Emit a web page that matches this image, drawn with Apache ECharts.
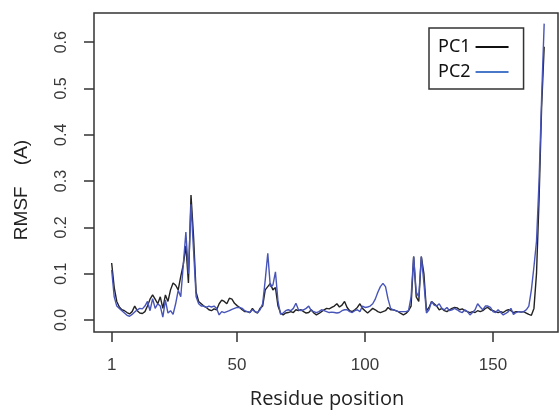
<!DOCTYPE html>
<html>
<head>
<meta charset="utf-8">
<script src="https://cdn.jsdelivr.net/npm/echarts@6/dist/echarts.min.js"></script>
<style>
  html, body { margin: 0; padding: 0; background: #fff; }
  #chart { width: 559px; height: 415px; }
</style>
</head>
<body>
<div id="chart"></div>
<script>
// RMSF per residue
const pc1 = [
  0.123, 0.07, 0.04, 0.028, 0.022, 0.02, 0.016, 0.013, 0.018, 0.03,
  0.02, 0.015, 0.014, 0.018, 0.03, 0.045, 0.054, 0.045, 0.035, 0.05,
  0.025, 0.054, 0.04, 0.065, 0.08, 0.075, 0.065, 0.094, 0.12, 0.16,
  0.08, 0.27, 0.18, 0.06, 0.04, 0.035, 0.03, 0.027, 0.022, 0.02,
  0.024, 0.022, 0.035, 0.043, 0.04, 0.035, 0.047, 0.045, 0.036, 0.031,
  0.027, 0.022, 0.018, 0.018, 0.016, 0.025, 0.018, 0.015, 0.025, 0.03,
  0.065, 0.072, 0.079, 0.065, 0.07, 0.03, 0.015, 0.011, 0.015, 0.016,
  0.018, 0.016, 0.022, 0.02, 0.022, 0.018, 0.015, 0.016, 0.022, 0.015,
  0.011, 0.014, 0.018, 0.022, 0.025, 0.024, 0.027, 0.03, 0.035, 0.028,
  0.032, 0.04, 0.027, 0.02, 0.018, 0.022, 0.027, 0.035, 0.025, 0.02,
  0.015, 0.02, 0.025, 0.022, 0.018, 0.016, 0.018, 0.02, 0.027, 0.022,
  0.022, 0.02, 0.018, 0.014, 0.011, 0.014, 0.02, 0.03, 0.137, 0.05,
  0.04, 0.137, 0.1, 0.02, 0.027, 0.04, 0.035, 0.03, 0.022, 0.025,
  0.02, 0.018, 0.022, 0.025, 0.027, 0.026, 0.022, 0.024, 0.02, 0.018,
  0.016, 0.018, 0.016, 0.02, 0.018, 0.02, 0.025, 0.027, 0.022, 0.02,
  0.018, 0.016, 0.018, 0.016, 0.02, 0.022, 0.02, 0.016, 0.018, 0.018,
  0.017, 0.018, 0.015, 0.012, 0.01, 0.025, 0.1, 0.26, 0.46, 0.59
];
const pc2 = [
  0.108, 0.05, 0.03, 0.025, 0.02, 0.015, 0.01, 0.008, 0.012, 0.017,
  0.022, 0.025, 0.024, 0.03, 0.04, 0.02, 0.046, 0.025, 0.035, 0.03,
  0.006, 0.043, 0.015, 0.02, 0.012, 0.035, 0.064, 0.05, 0.12, 0.19,
  0.1, 0.25, 0.15, 0.05, 0.035, 0.03, 0.03, 0.027, 0.03, 0.028,
  0.03, 0.025, 0.011, 0.018, 0.016, 0.018, 0.02, 0.023, 0.025, 0.027,
  0.027, 0.025, 0.02, 0.018, 0.016, 0.022, 0.018, 0.016, 0.022, 0.035,
  0.086, 0.144, 0.072, 0.075, 0.104, 0.04, 0.012, 0.015, 0.02, 0.022,
  0.02, 0.025, 0.036, 0.022, 0.02, 0.022, 0.025, 0.03, 0.02, 0.018,
  0.016, 0.018, 0.022, 0.02, 0.018, 0.016, 0.017, 0.016, 0.015, 0.016,
  0.02, 0.022, 0.022, 0.018, 0.016, 0.02, 0.022, 0.018, 0.03, 0.027,
  0.028, 0.03, 0.035, 0.045, 0.06, 0.072, 0.079, 0.072, 0.045, 0.025,
  0.022, 0.02, 0.018, 0.018, 0.018, 0.018, 0.02, 0.05, 0.137, 0.06,
  0.05, 0.137, 0.08, 0.015, 0.022, 0.04, 0.032, 0.03, 0.035, 0.025,
  0.022, 0.027, 0.02, 0.022, 0.025, 0.022, 0.018, 0.016, 0.022, 0.018,
  0.011, 0.016, 0.022, 0.035, 0.028, 0.022, 0.03, 0.03, 0.027, 0.018,
  0.016, 0.022, 0.016, 0.011, 0.014, 0.018, 0.025, 0.012, 0.016, 0.018,
  0.017, 0.018, 0.022, 0.03, 0.065, 0.115, 0.17, 0.3, 0.48, 0.64
];
const residues = pc1.map((_, i) => i + 1);
const xTicks = [1, 50, 100, 150];
const yTicks = [0, 0.1, 0.2, 0.3, 0.4, 0.5, 0.6];

const ink = "#333";
const blue = "#4754b8";

const chart = echarts.init(document.getElementById("chart"), null, { renderer: "canvas" });

chart.setOption({
  animation: false,
  backgroundColor: "#fff",
  textStyle: { fontFamily: '"Liberation Sans", Arial, sans-serif' },
  grid: {
    left: 94,
    top: 13,
    right: 1,
    bottom: 83,
    show: true,
    borderColor: ink,
    borderWidth: 1.5,
    backgroundColor: "transparent",
  },
  legend: {
    orient: "vertical",
    left: 429,
    top: 28,
    align: "right",
    icon: "rect",
    itemWidth: 33,
    itemHeight: 2,
    itemGap: 5,
    padding: [9, 15, 7, 9],
    borderColor: ink,
    borderWidth: 1.5,
    textStyle: {
      fontFamily: '"Noto Sans", sans-serif',
      fontSize: 18,
      lineHeight: 20,
      color: "#111",
    },
    data: [
      { name: "PC1", itemStyle: { color: "#111" } },
      { name: "PC2", itemStyle: { color: "#4a78c8" } },
    ],
  },
  xAxis: {
    type: "value",
    min: -5.9,
    max: 175.4,
    axisLine: { show: false, onZero: false },
    splitLine: { show: false },
    axisTick: {
      show: true,
      length: 10,
      customValues: xTicks,
      lineStyle: { color: ink, width: 1.5 },
    },
    axisLabel: {
      customValues: xTicks,
      margin: 25,
      fontSize: 17,
      color: "#3a3a3a",
    },
  },
  yAxis: {
    type: "value",
    min: -0.026,
    max: 0.663,
    axisLine: { show: false, onZero: false },
    splitLine: { show: false },
    axisTick: {
      show: true,
      length: 10,
      customValues: yTicks,
      lineStyle: { color: ink, width: 1.5 },
    },
    axisLabel: {
      customValues: yTicks,
      rotate: 90,
      margin: 24,
      fontSize: 16,
      color: "#3a3a3a",
      formatter: (v) => v.toFixed(1),
    },
  },
  graphic: [
    {
      type: "text",
      x: 22,
      y: 190,
      rotation: Math.PI / 2,
      style: {
        text: "RMSF    (A)",
        fontFamily: '"Liberation Sans", Arial, sans-serif',
        fontSize: 19,
        fill: "#222",
        align: "center",
        verticalAlign: "middle",
      },
    },
    {
      type: "text",
      x: 327,
      y: 399,
      style: {
        text: "Residue position",
        fontFamily: '"Open Sans", sans-serif',
        fontSize: 20,
        fill: "#222",
        align: "center",
        verticalAlign: "middle",
      },
    },
  ],
  series: [
    {
      name: "PC1",
      type: "line",
      symbol: "none",
      color: "#222",
      lineStyle: { width: 1.4, color: "#222" },
      data: residues.map((r, i) => [r, pc1[i]]),
    },
    {
      name: "PC2",
      type: "line",
      symbol: "none",
      color: blue,
      lineStyle: { width: 1.4, color: blue },
      data: residues.map((r, i) => [r, pc2[i]]),
    },
  ],
});
</script>
</body>
</html>
